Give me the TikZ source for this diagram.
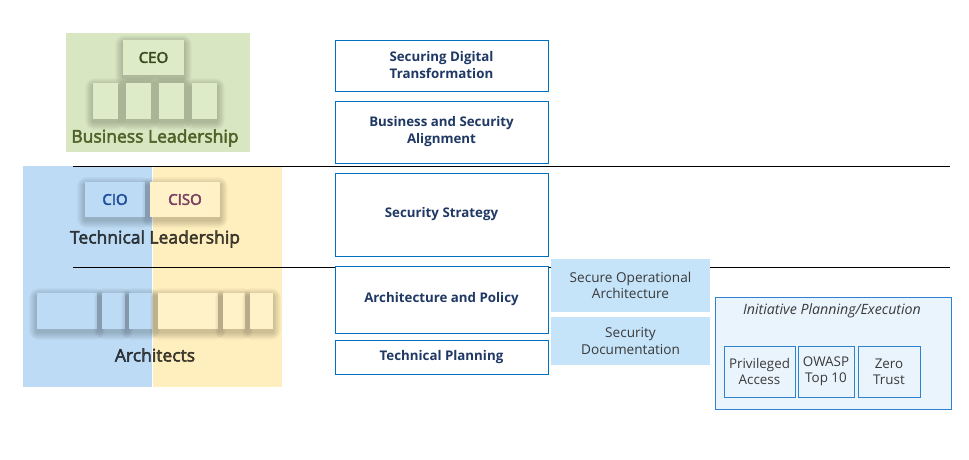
\documentclass[tikz,border=0pt]{standalone}
\usepackage{fontspec}
\setmainfont{Open Sans}
\newfontfamily\semib[FakeBold=2.8]{Open Sans}
\definecolor{bgreen}{HTML}{D8E7C2}
\definecolor{bgreenL}{HTML}{DDEBC8}
\definecolor{gtext}{HTML}{4F6228}
\definecolor{ceotext}{HTML}{3A4A1F}
\definecolor{bblue}{HTML}{BDDBF4}
\definecolor{byellow}{HTML}{FFEFBE}
\definecolor{byellowL}{HTML}{FFF1C8}
\definecolor{ciotext}{HTML}{1F4E9C}
\definecolor{cisotext}{HTML}{7B3F61}
\definecolor{mblue}{HTML}{0070C0}
\definecolor{navy}{HTML}{1F3864}
\definecolor{sidefill}{HTML}{C5E3F9}
\definecolor{sidetext}{HTML}{3A3A3A}
\definecolor{ipefill}{HTML}{EAF4FD}
\definecolor{ipeline}{HTML}{2E82CE}
\newcommand\glowbox[7]{%
  \foreach \k in {1,...,10}{%
    \fill[black, opacity=0.018, rounded corners=\k pt]
      ({#2-#4/2-0.8*\k},{#3-#5/2-0.8*\k+3}) rectangle ({#2+#4/2+0.8*\k},{#3+#5/2+0.8*\k+3});}%
  \node[#6, minimum width=#4pt, minimum height=#5pt, inner sep=0pt] (#1) at (#2,#3) {#7};}
\tikzset{
  mainbox/.style={draw=mblue, line width=0.9pt, fill=white, inner sep=0pt, align=center, text=navy, font=\fontsize{13.3}{17}\selectfont\bfseries},
  sidebox/.style={fill=sidefill, inner sep=0pt, align=center, text=sidetext, font=\fontsize{13.6}{16.5}\selectfont},
  smallbox/.style={draw=ipeline, line width=0.9pt, inner sep=0pt, align=center, text=sidetext, font=\fontsize{13.4}{16}\selectfont},
  bigtext/.style={font=\fontsize{17.5}{20}\selectfont\semib, inner sep=0pt},
  lbltext/.style={font=\fontsize{15}{17}\selectfont\semib},
  rule/.style={line width=0.8pt, black}
}
\begin{document}
\begin{tikzpicture}[x=1pt,y=-1pt]
\useasboundingbox (0,0) rectangle (969,459);
% business leadership
\fill[bgreen] (66,33) rectangle (250,152);
\glowbox{ceo}{153.5}{57.5}{61}{35}{fill=bgreenL, text=ceotext, lbltext}{CEO}
\glowbox{bl1}{105.5}{101}{25}{36}{fill=bgreenL}{}
\glowbox{bl2}{138.5}{101}{25}{36}{fill=bgreenL}{}
\glowbox{bl3}{171.5}{101}{25}{36}{fill=bgreenL}{}
\glowbox{bl4}{204.5}{101}{25}{36}{fill=bgreenL}{}
\node[bigtext, text=gtext] (bltext) at (155,138) {Business Leadership};
% technical leadership / architects
\fill[bblue] (23,166) rectangle (152,387);
\fill[byellow] (152.8,166) rectangle (282,387);
\glowbox{cio}{115}{199.5}{60}{35}{fill=bblue, text=ciotext, lbltext}{CIO}
\glowbox{ciso}{185}{199.5}{70}{35}{fill=byellowL, text=cisotext, lbltext}{CISO}
\node[bigtext, text=black, text opacity=0.68] (tltext) at (155,239) {Technical Leadership};
\glowbox{a1}{67}{311}{60}{36}{fill=bblue}{}
\glowbox{a2}{113.5}{311}{23}{36}{fill=bblue}{}
\glowbox{a3}{140.5}{311}{23}{36}{fill=bblue}{}
\glowbox{a4}{188}{311}{60}{36}{fill=byellowL}{}
\glowbox{a5}{234}{311}{22}{36}{fill=byellowL}{}
\glowbox{a6}{261.5}{311}{23}{36}{fill=byellowL}{}
\node[bigtext, text=black, text opacity=0.68] (artext) at (155,355) {Architects};
% rules
\coordinate (r1a) at (73,166); \coordinate (r1b) at (950,166);
\coordinate (r2a) at (73,267); \coordinate (r2b) at (950,267);
\draw[rule] (r1a) -- (r1b);
\draw[rule] (r2a) -- (r2b);
% main column
\node[mainbox, minimum width=213pt, minimum height=51pt] (sdt) at (441.5,65.5) {Securing Digital\\Transformation};
\node[mainbox, minimum width=213pt, minimum height=62pt] (bsa) at (441.5,132) {Business and Security\\Alignment};
\node[mainbox, minimum width=213pt, minimum height=83pt] (ss) at (441.5,214.5) {Security Strategy};
\node[mainbox, minimum width=213pt, minimum height=67pt] (ap) at (441.5,299.5) {Architecture and Policy};
\node[mainbox, minimum width=213pt, minimum height=34pt] (tp) at (441.5,357) {Technical Planning};
% side column
\node[sidebox, minimum width=159pt, minimum height=53pt] (soa) at (630.5,285.5) {Secure Operational\\Architecture};
\node[sidebox, minimum width=159pt, minimum height=48pt] (sd) at (630.5,341) {Security\\Documentation};
% initiative
\node[draw=ipeline, line width=0.9pt, fill=ipefill, minimum width=236pt, minimum height=112pt, inner sep=0pt] (ipe) at (833,353) {};
\node[text=sidetext, font=\fontsize{14.2}{16}\selectfont\itshape, inner sep=0pt] (ipet) at (832,311) {Initiative Planning/Execution};
\node[smallbox, minimum width=71pt, minimum height=51pt] (pa) at (759.5,371.5) {Privileged\\Access};
\node[smallbox, minimum width=56pt, minimum height=51pt] (ow) at (826,371.5) {OWASP\\Top 10};
\node[smallbox, minimum width=62pt, minimum height=51pt] (zt) at (889,371.5) {Zero\\Trust};
\end{tikzpicture}
\end{document}
